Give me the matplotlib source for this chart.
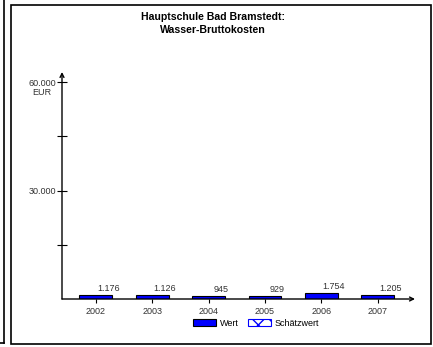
import matplotlib.pyplot as plt
import matplotlib.patches as mpatches

plt.rcParams['font.family'] = ['Liberation Sans', 'DejaVu Sans']

years = ['2002', '2003', '2004', '2005', '2006', '2007']
wert = [1176, 1126, 945, 929, 1754, 1205]
labels = ['1.176', '1.126', '945', '929', '1.754', '1.205']

W, H = 433, 347
fig = plt.figure(figsize=(W / 100, H / 100), dpi=100)

# frames
fig.add_artist(mpatches.Rectangle((11 / W, 1 - 344 / H), 420 / W, 339 / H,
                                  transform=fig.transFigure, fill=False,
                                  edgecolor='black', linewidth=1.2))
fig.add_artist(plt.Line2D([3.5 / W, 3.5 / W], [1 - 343 / H, 1.0],
                          transform=fig.transFigure, color='black', linewidth=1.2))
fig.add_artist(plt.Line2D([0, 3.5 / W], [1 - 343 / H, 1 - 343 / H],
                          transform=fig.transFigure, color='black', linewidth=1.2))

ax = fig.add_axes([62 / W, 1 - 299 / H, (415 - 62) / W, (299 - 72) / H])
x = list(range(len(years)))
ax.bar(x, wert, width=0.585, color='#0000ff', edgecolor='black', linewidth=0.8)
ax.set_xlim(-0.6, 5.66)
ax.set_ylim(0, 62765)
for s in ax.spines.values():
    s.set_visible(False)

# axes with arrows
ax.annotate('', xy=(0, 1.0), xytext=(0, 0), xycoords='axes fraction',
            arrowprops=dict(arrowstyle='->', color='black', lw=1.0,
                            shrinkA=0, shrinkB=0, mutation_scale=7))
ax.annotate('', xy=(1.0, 0), xytext=(0, 0), xycoords='axes fraction',
            arrowprops=dict(arrowstyle='->', color='black', lw=1.0,
                            shrinkA=0, shrinkB=0, mutation_scale=7))

ax.set_yticks([15000, 30000, 45000, 60000])
ax.set_yticklabels(['', '30.000', '', '60.000'], fontsize=6.5, color='#333333')
ax.tick_params(axis='y', direction='inout', length=7, width=0.8, pad=1)
ax.text(-0.03, 57000, 'EUR', transform=ax.get_yaxis_transform(),
        ha='right', va='center', fontsize=6.5, color='#333333')
ax.set_xticks(x)
ax.set_xticklabels(years, fontsize=6.5, color='#333333')
ax.tick_params(axis='x', direction='out', length=3, width=0.8, pad=2.5)

for xi, v, l in zip(x, wert, labels):
    ax.text(xi + 0.22, v + 500, l, ha='center', va='bottom', fontsize=6.5,
            color='#333333')

fig.text(213 / W, 1 - 23.5 / H, 'Hauptschule Bad Bramstedt:\nWasser-Bruttokosten',
         ha='center', va='center', fontsize=7.6, fontweight='bold',
         linespacing=1.45)

# legend
h1 = mpatches.Patch(facecolor='#0000ff', edgecolor='black', linewidth=0.8, label='Wert')
h2 = mpatches.Patch(facecolor='white', edgecolor='#0000ff', hatch='xx',
                    linewidth=0.8, label='Schätzwert')
fig.legend(handles=[h1, h2], loc='center', bbox_to_anchor=(256 / W, 1 - 323.5 / H),
           ncol=2, frameon=False, fontsize=6.5, handlelength=2.6,
           handleheight=0.8, columnspacing=1.0, handletextpad=0.4)

fig.savefig('out.png', dpi=100)
